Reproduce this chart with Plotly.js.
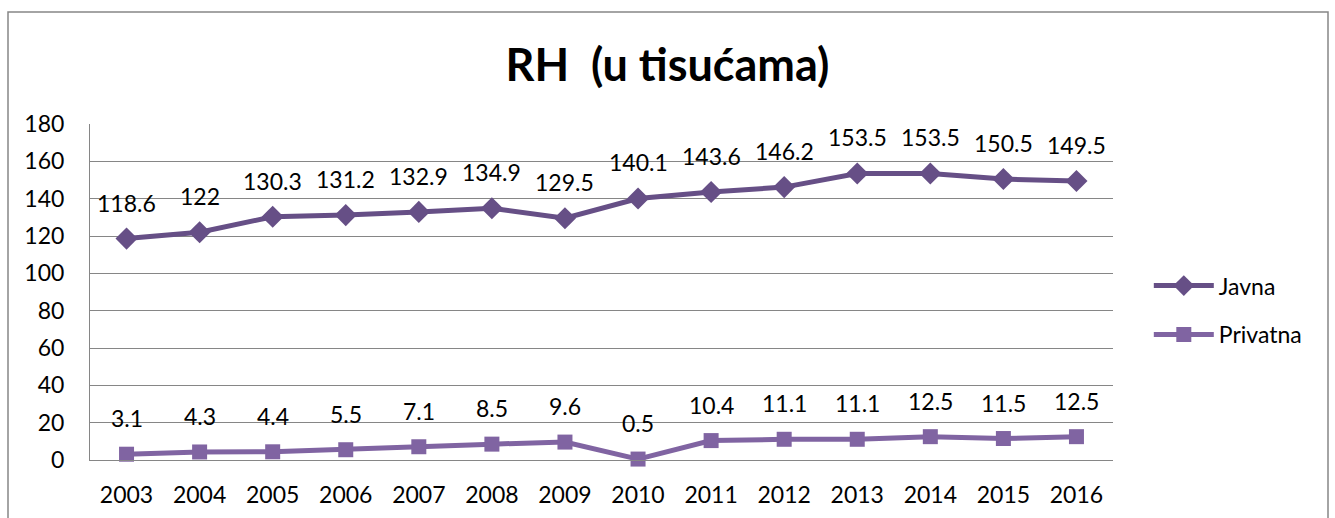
<!DOCTYPE html>
<html><head><meta charset="utf-8">
<script src="https://cdn.plot.ly/plotly-3.0.1.min.js"></script>
<style>html,body{margin:0;padding:0;background:#fff}#c{width:1335px;height:518px}</style>
</head><body><div id="c"></div>
<script>
const years = ['2003','2004','2005','2006','2007','2008','2009','2010','2011','2012','2013','2014','2015','2016'];
const javna = [118.6,122,130.3,131.2,132.9,134.9,129.5,140.1,143.6,146.2,153.5,153.5,150.5,149.5];
const privatna = [3.1,4.3,4.4,5.5,7.1,8.5,9.6,0.5,10.4,11.1,11.1,12.5,11.5,12.5];
const yTicks = [0,20,40,60,80,100,120,140,160,180];

const font = 'Lato, "Open Sans", sans-serif';
const traces = [
  {x: years, y: javna, name: 'Javna', legendgroup: 'a', type: 'scatter', mode: 'lines+markers',
   line: {color: '#664f86', width: 5}, marker: {symbol: 'diamond', size: 17, color: '#664f86'}, cliponaxis: false},
  {x: years, y: privatna, name: 'Privatna', legendgroup: 'b', type: 'scatter', mode: 'lines+markers',
   line: {color: '#8064a2', width: 5}, marker: {symbol: 'square', size: 15, color: '#8064a2'}, cliponaxis: false}
];
const ann = [];
years.forEach((y, i) => {
  ann.push({x: i, y: javna[i], text: String(javna[i]), showarrow: false, yshift: 36, font: {size: 23, color: '#000', family: font}});
  ann.push({x: i, y: privatna[i], text: String(privatna[i]), showarrow: false, yshift: 36, font: {size: 23, color: '#000', family: font}});
});
const layout = {
  width: 1335, height: 518,
  margin: {l: 90, r: 222, t: 124, b: 58},
  paper_bgcolor: '#fff', plot_bgcolor: '#fff',
  title: {text: 'RH\u00a0\u00a0(u tisućama)', x: 0.5, xref: 'container', xanchor: 'center', y: 0.875, yanchor: 'middle',
          font: {size: 45, family: font, color: '#000', weight: 'bold'}},
  font: {family: font, color: '#000', size: 20},
  showlegend: true,
  legend: {x: 1.035, y: 0.446, xanchor: 'left', yanchor: 'middle', font: {size: 23, family: font}, itemwidth: 60,
           traceorder: 'grouped', tracegroupgap: 16, bgcolor: 'rgba(0,0,0,0)'},
  xaxis: {type: 'category', range: [-0.5, 13.5], showgrid: false, showline: true, linecolor: '#868686', linewidth: 1,
          ticks: '', ticklabelstandoff: 14, tickfont: {size: 23, family: font}, zeroline: false, fixedrange: true},
  yaxis: {range: [0, 180], tickvals: yTicks, showgrid: true, gridcolor: '#868686', gridwidth: 1, showline: true,
          linecolor: '#868686', linewidth: 1, ticks: '', ticklabelstandoff: 20, tickfont: {size: 23, family: font}, zeroline: false, fixedrange: true},
  annotations: ann,
  shapes: [{type: 'rect', xref: 'paper', yref: 'paper', x0: (8-90)/1023, x1: (1328-90)/1023, y0: -0.3, y1: (460-12)/336,
            line: {color: '#868686', width: 1.5}, fillcolor: 'rgba(0,0,0,0)', layer: 'below'}]
};
Plotly.newPlot('c', traces, layout, {displayModeBar: false, staticPlot: true});
</script></body></html>
